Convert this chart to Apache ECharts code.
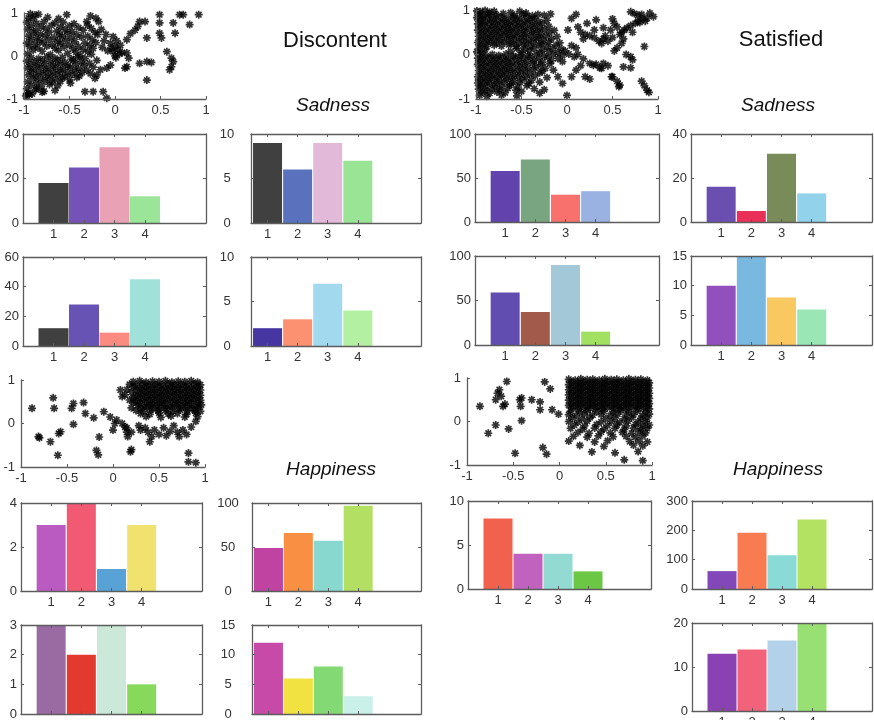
<!DOCTYPE html>
<html>
<head>
<meta charset="utf-8">
<script src="https://cdn.jsdelivr.net/npm/echarts@6/dist/echarts.min.js"></script>
<style>
  html, body { margin: 0; padding: 0; background: #fff; }
  #chart { width: 874px; height: 720px; }
</style>
</head>
<body>
<div id="chart"></div>
<script>
// ---------- data ----------
const categories = [1, 2, 3, 4];

// Discontent – sadness blocks
const discSadTopLeft = [18, 25, 34, 12];
const discSadTopRight = [9, 6, 9, 7];
const discSadBotLeft = [12, 28, 9, 45];
const discSadBotRight = [2, 3, 7, 4];
// Satisfied – sadness blocks
const satSadTopLeft = [58, 71, 31, 35];
const satSadTopRight = [16, 5, 31, 13];
const satSadBotLeft = [59, 37, 90, 15];
const satSadBotRight = [10, 15, 8, 6];
// Discontent – happiness blocks
const discHapTopLeft = [3, 4, 1, 3];
const discHapTopRight = [49, 66, 57, 97];
const discHapBotLeft = [3, 2, 3, 1];
const discHapBotRight = [12, 6, 8, 3];
// Satisfied – happiness blocks
const satHapTopLeft = [8, 4, 4, 2];
const satHapTopRight = [61, 192, 115, 237];
const satHapBotRight = [13, 14, 16, 20];

// Scatter clouds
const discontentSadnessPts = [
  [-0.93,0.98],[-0.88,0.95],[-0.84,0.97],[-0.53,0.96],[-0.27,0.93],[-0.21,0.88],
  [-0.95,0.88],[-0.9,0.86],[-0.74,0.9],[-0.62,0.87],[-0.18,0.8],[-0.31,0.8],
  [-0.97,0.78],[-0.86,0.76],[-0.78,0.8],[-0.66,0.77],[-0.57,0.79],[-0.45,0.75],[-0.3,0.72],
  [-0.92,0.7],[-0.81,0.68],[-0.7,0.71],[-0.6,0.67],[-0.5,0.7],[-0.4,0.66],[-0.26,0.64],
  [-0.96,0.62],[-0.87,0.6],[-0.76,0.63],[-0.64,0.58],[-0.55,0.61],[-0.47,0.57],[-0.35,0.6],[-0.22,0.55],
  [-0.9,0.54],[-0.82,0.51],[-0.72,0.55],[-0.61,0.5],[-0.52,0.53],[-0.42,0.49],[-0.3,0.46],[-0.19,0.5],
  [-0.95,0.46],[-0.86,0.43],[-0.77,0.47],[-0.67,0.42],[-0.58,0.45],[-0.48,0.41],[-0.37,0.44],[-0.25,0.38],
  [-0.92,0.38],[-0.83,0.35],[-0.73,0.39],[-0.63,0.34],[-0.54,0.37],[-0.44,0.33],[-0.33,0.3],[-0.21,0.31],
  [-0.97,0.3],[-0.88,0.27],[-0.79,0.31],[-0.69,0.26],[-0.6,0.29],[-0.5,0.25],[-0.4,0.22],[-0.28,0.24],
  [-0.94,0.22],[-0.85,0.19],[-0.75,0.23],[-0.66,0.18],[-0.56,0.21],[-0.46,0.17],[-0.35,0.15],[-0.24,0.18],
  [-0.9,0.14],[-0.8,0.11],[-0.62,0.13],[-0.43,0.09],[-0.3,0.1],
  [-0.96,0.05],[-0.71,0.03],[-0.52,0.06],[-0.38,0.01],[-0.26,0.04],
  [-0.15,0.62],[-0.12,0.35],[-0.14,0.2],[-0.1,0.5],
  [-0.92,-0.04],[-0.84,-0.06],[-0.75,-0.02],[-0.66,-0.05],[-0.58,-0.03],[-0.48,-0.07],[-0.41,-0.02],[-0.33,-0.06],[-0.2,-0.1],
  [-0.97,-0.12],[-0.88,-0.14],[-0.8,-0.1],[-0.71,-0.13],[-0.63,-0.11],[-0.55,-0.15],[-0.46,-0.1],[-0.37,-0.14],[-0.28,-0.17],
  [-0.93,-0.2],[-0.85,-0.22],[-0.77,-0.18],[-0.68,-0.21],[-0.6,-0.19],[-0.52,-0.23],[-0.43,-0.18],[-0.34,-0.22],[-0.24,-0.26],
  [-0.96,-0.28],[-0.89,-0.3],[-0.81,-0.26],[-0.73,-0.29],[-0.65,-0.27],[-0.57,-0.31],[-0.49,-0.26],[-0.4,-0.3],[-0.31,-0.33],
  [-0.92,-0.36],[-0.84,-0.38],[-0.76,-0.34],[-0.68,-0.37],[-0.6,-0.35],[-0.52,-0.39],[-0.44,-0.34],[-0.36,-0.38],[-0.27,-0.41],
  [-0.95,-0.44],[-0.87,-0.46],[-0.79,-0.42],[-0.71,-0.45],[-0.63,-0.43],[-0.55,-0.47],[-0.47,-0.42],[-0.39,-0.46],
  [-0.9,-0.52],[-0.82,-0.54],[-0.74,-0.5],[-0.66,-0.53],[-0.58,-0.51],[-0.5,-0.55],[-0.42,-0.5],
  [-0.96,-0.6],[-0.86,-0.62],[-0.77,-0.58],[-0.69,-0.61],[-0.6,-0.59],[-0.49,-0.63],
  [-0.92,-0.68],[-0.81,-0.7],[-0.72,-0.66],[-0.63,-0.69],
  [-0.97,-0.76],[-0.87,-0.78],[-0.78,-0.82],[-0.66,-0.8],
  [-0.95,-0.85],[-0.91,-0.88],[-0.8,-0.84],[-0.98,-0.93],[-0.94,-0.9],
  [-0.05,0.3],[0.0,0.22],[0.03,0.15],[-0.02,0.1],[0.05,0.05],[0.0,0.0],[-0.04,0.18],[0.06,0.25],
  [0.02,0.35],[-0.02,0.45],[-0.08,0.12],[0.08,0.08],[0.01,-0.04],
  [0.13,0.38],[0.17,0.52],[0.22,0.6],[0.25,0.69],[0.27,0.8],[0.33,0.8],[0.35,0.42],
  [0.49,0.96],[0.49,0.77],[0.49,0.53],[0.51,0.42],[0.64,0.77],[0.66,0.53],[0.71,0.96],[0.75,0.96],[0.82,0.73],[0.92,0.96],
  [0.57,0.1],[0.62,-0.05],[0.64,-0.13],[0.62,-0.25],[0.6,-0.32],[0.35,-0.56],
  [0.27,-0.17],[0.35,-0.13],[0.4,-0.15],[0.13,0.07],[0.15,-0.05],[0.13,-0.25],[0.11,-0.28],
  [-0.16,-0.32],[-0.09,-0.28],[-0.05,-0.21],[-0.2,-0.44],[-0.22,-0.52],
  [-0.33,-0.83],[-0.24,-0.83],[-0.13,-0.83],[-0.09,-0.98],[-0.97,-0.9],[-0.86,-0.75]
];

const satisfiedSadnessPts = [
  [-0.99,0.98],[-0.95,0.96],[-0.9,0.99],[-0.85,0.95],[-0.8,0.97],[-0.62,0.94],[-0.52,0.97],[-0.45,0.93],
  [-0.97,0.9],[-0.92,0.88],[-0.86,0.91],[-0.78,0.89],[-0.7,0.92],[-0.58,0.88],[-0.48,0.91],[-0.38,0.87],[-0.32,0.9],[-0.25,0.88],[-0.18,0.91],
  [-0.99,0.83],[-0.93,0.81],[-0.87,0.84],[-0.8,0.82],[-0.73,0.85],[-0.66,0.81],[-0.59,0.84],[-0.52,0.82],[-0.44,0.85],[-0.36,0.81],
  [-0.96,0.76],[-0.9,0.74],[-0.83,0.77],[-0.76,0.75],[-0.69,0.78],[-0.62,0.74],[-0.55,0.77],[-0.47,0.75],[-0.4,0.78],[-0.31,0.74],[-0.22,0.77],
  [-0.98,0.69],[-0.92,0.67],[-0.85,0.7],[-0.78,0.68],[-0.71,0.71],[-0.64,0.67],[-0.57,0.7],[-0.5,0.68],[-0.43,0.71],[-0.35,0.67],[-0.27,0.7],
  [-0.95,0.62],[-0.88,0.6],[-0.81,0.63],[-0.74,0.61],[-0.67,0.64],[-0.6,0.6],[-0.53,0.63],[-0.46,0.61],[-0.38,0.64],[-0.3,0.6],[-0.2,0.63],
  [-0.98,0.55],[-0.91,0.53],[-0.84,0.56],[-0.77,0.54],[-0.7,0.57],[-0.63,0.53],[-0.56,0.56],[-0.48,0.54],[-0.41,0.57],[-0.33,0.53],[-0.25,0.56],[-0.14,0.54],
  [-0.94,0.48],[-0.87,0.46],[-0.8,0.49],[-0.73,0.47],[-0.66,0.5],[-0.59,0.46],[-0.52,0.49],[-0.45,0.47],[-0.37,0.5],[-0.29,0.46],[-0.19,0.49],
  [-0.97,0.41],[-0.9,0.39],[-0.83,0.42],[-0.76,0.4],[-0.69,0.43],[-0.62,0.39],[-0.55,0.42],[-0.47,0.4],[-0.39,0.43],[-0.31,0.39],[-0.23,0.42],[-0.11,0.4],
  [-0.94,0.34],[-0.87,0.32],[-0.8,0.35],[-0.73,0.33],[-0.65,0.36],[-0.58,0.32],[-0.5,0.35],[-0.42,0.33],[-0.34,0.36],[-0.26,0.32],[-0.17,0.35],
  [-0.98,0.27],[-0.91,0.25],[-0.84,0.28],[-0.77,0.26],[-0.69,0.29],[-0.61,0.25],[-0.53,0.28],[-0.45,0.26],[-0.37,0.29],[-0.28,0.25],[-0.2,0.28],[-0.08,0.26],
  [-0.95,0.2],[-0.88,0.18],[-0.8,0.21],[-0.72,0.19],[-0.64,0.22],[-0.56,0.18],[-0.48,0.21],[-0.4,0.19],[-0.31,0.22],[-0.22,0.18],[-0.12,0.21],
  [-0.97,0.13],[-0.9,0.11],[-0.55,0.14],[-0.46,0.12],[-0.36,0.15],[-0.27,0.11],[-0.16,0.14],[-0.06,0.12],
  [-0.99,0.06],[-0.93,0.04],[-0.62,0.07],[-0.5,0.05],[-0.41,0.08],[-0.3,0.04],[-0.2,0.07],[-0.1,0.05],[-0.02,0.08],
  [-0.96,-0.01],[-0.89,-0.03],[-0.82,0.0],[-0.75,-0.02],[-0.67,0.01],[-0.59,-0.03],[-0.51,0.0],[-0.43,-0.02],[-0.34,0.01],[-0.25,-0.03],[-0.15,0.0],[-0.05,-0.02],[0.02,0.01],
  [-0.98,-0.08],[-0.92,-0.1],[-0.85,-0.07],[-0.78,-0.09],[-0.71,-0.06],[-0.64,-0.1],[-0.56,-0.07],[-0.48,-0.09],[-0.4,-0.06],[-0.31,-0.1],[-0.21,-0.07],[-0.1,-0.09],
  [-0.95,-0.15],[-0.88,-0.17],[-0.81,-0.14],[-0.74,-0.16],[-0.67,-0.13],[-0.6,-0.17],[-0.52,-0.14],[-0.44,-0.16],[-0.36,-0.13],[-0.27,-0.17],[-0.17,-0.14],[-0.05,-0.16],
  [-0.98,-0.22],[-0.91,-0.24],[-0.84,-0.21],[-0.77,-0.23],[-0.7,-0.2],[-0.63,-0.24],[-0.55,-0.21],[-0.47,-0.23],[-0.38,-0.2],[-0.29,-0.24],[-0.19,-0.21],
  [-0.94,-0.29],[-0.87,-0.31],[-0.8,-0.28],[-0.73,-0.3],[-0.66,-0.27],[-0.59,-0.31],[-0.51,-0.28],[-0.43,-0.3],[-0.34,-0.27],[-0.24,-0.31],
  [-0.97,-0.36],[-0.9,-0.38],[-0.83,-0.35],[-0.76,-0.37],[-0.69,-0.34],[-0.62,-0.38],[-0.54,-0.35],[-0.46,-0.37],[-0.37,-0.34],[-0.27,-0.38],[-0.15,-0.35],
  [-0.94,-0.43],[-0.87,-0.45],[-0.8,-0.42],[-0.73,-0.44],[-0.66,-0.41],[-0.58,-0.45],[-0.5,-0.42],[-0.41,-0.44],[-0.3,-0.41],
  [-0.98,-0.5],[-0.91,-0.52],[-0.84,-0.49],[-0.77,-0.51],[-0.7,-0.48],[-0.62,-0.52],[-0.54,-0.49],[-0.45,-0.51],[-0.35,-0.48],[-0.22,-0.52],
  [-0.95,-0.57],[-0.88,-0.59],[-0.81,-0.56],[-0.74,-0.58],[-0.66,-0.55],[-0.58,-0.59],[-0.49,-0.56],[-0.39,-0.58],
  [-0.98,-0.64],[-0.92,-0.66],[-0.85,-0.63],[-0.77,-0.65],[-0.69,-0.62],[-0.61,-0.66],[-0.52,-0.63],[-0.42,-0.65],[-0.3,-0.62],
  [-0.95,-0.71],[-0.88,-0.73],[-0.8,-0.7],[-0.72,-0.72],[-0.63,-0.69],[-0.54,-0.73],[-0.44,-0.7],
  [-0.97,-0.78],[-0.9,-0.8],[-0.82,-0.77],[-0.74,-0.79],[-0.65,-0.76],[-0.56,-0.8],[-0.36,-0.77],[-0.25,-0.79],
  [-0.93,-0.85],[-0.85,-0.87],[-0.77,-0.84],[-0.68,-0.86],[-0.5,-0.83],[-0.3,-0.87],
  [-0.96,-0.92],[-0.88,-0.94],[-0.72,-0.91],[-0.55,-0.93],
  [0.05,0.81],[0.1,0.9],[0.01,0.55],[0.12,0.62],[0.15,0.5],[0.2,0.45],[0.18,0.35],[0.25,0.42],[0.3,0.38],[0.32,0.78],
  [0.35,0.3],[0.4,0.35],[0.42,0.42],[0.38,0.25],[0.45,0.3],[0.5,0.38],[0.48,0.55],[0.52,0.7],[0.55,0.62],[0.5,0.8],
  [0.58,0.45],[0.6,0.5],[0.63,0.55],[0.66,0.6],[0.7,0.65],[0.72,0.5],[0.75,0.7],[0.78,0.75],[0.8,0.72],[0.83,0.8],
  [0.86,0.75],[0.88,0.82],[0.7,0.96],[0.74,0.92],[0.78,0.88],[0.82,0.9],[0.91,0.93],[0.85,0.18],[0.6,0.25],[0.55,0.15],
  [0.52,0.08],[0.65,0.0],[0.7,-0.05],[0.72,-0.12],[0.62,-0.28],[0.7,-0.3],[0.45,-0.25],[0.4,-0.2],[0.32,-0.22],[0.36,-0.3],
  [0.25,-0.2],[0.18,-0.1],[0.12,0.0],[0.08,-0.05],[0.05,0.2],[0.1,0.15],[0.15,-0.25],[0.1,-0.35],[0.05,-0.5],[0.2,-0.5],
  [0.25,-0.55],[0.5,-0.5],[0.55,-0.6],[0.57,-0.72],[0.82,-0.6],[0.85,-0.7],[0.88,-0.8],[0.9,-0.85],[0.0,-0.92],[-0.05,-0.65],
  [-0.1,-0.5],[0.3,0.55],[0.22,0.7],[0.4,0.6],[0.62,0.35],[0.95,0.85],[0.29,-0.24],[0.38,-0.31],[0.49,-0.5],[0.58,-0.69]
];

const discontentHappinessPts = [
  [-0.88,0.35],[-0.81,-0.3],[-0.8,-0.33],[-0.68,-0.42],[-0.65,0.59],[-0.64,0.35],[-0.59,-0.23],[-0.57,-0.19],
  [-0.6,-0.73],[-0.45,0.35],[-0.43,0.46],[-0.43,-0.02],[-0.32,0.48],[-0.3,0.23],[-0.21,0.13],[-0.18,-0.62],
  [-0.16,-0.72],[-0.15,-0.31],[-0.1,0.27],[-0.03,0.15],[0.0,-0.15],[0.02,0.0],[0.04,0.08],[0.08,0.77],
  [0.1,0.62],[0.13,-0.08],[0.16,-0.3],[0.15,-0.2],[0.19,-0.65],
  [0.22,0.96],[0.29,0.98],[0.36,0.95],[0.43,0.97],[0.5,0.96],[0.57,0.98],[0.64,0.95],[0.71,0.97],[0.78,0.96],[0.85,0.98],[0.92,0.95],
  [0.18,0.9],[0.25,0.88],[0.32,0.91],[0.39,0.89],[0.46,0.9],[0.53,0.88],[0.6,0.91],[0.67,0.89],[0.74,0.9],[0.81,0.88],[0.88,0.91],[0.95,0.89],
  [0.22,0.84],[0.29,0.82],[0.36,0.85],[0.43,0.83],[0.5,0.84],[0.57,0.82],[0.64,0.85],[0.71,0.83],[0.78,0.84],[0.85,0.82],[0.92,0.85],
  [0.15,0.78],[0.25,0.76],[0.32,0.79],[0.39,0.77],[0.46,0.78],[0.53,0.76],[0.6,0.79],[0.67,0.77],[0.74,0.78],[0.81,0.76],[0.88,0.79],[0.95,0.77],
  [0.2,0.72],[0.29,0.7],[0.36,0.73],[0.43,0.71],[0.5,0.72],[0.57,0.7],[0.64,0.73],[0.71,0.71],[0.78,0.72],[0.85,0.7],[0.92,0.73],
  [0.13,0.66],[0.25,0.64],[0.32,0.67],[0.39,0.65],[0.46,0.66],[0.53,0.64],[0.6,0.67],[0.67,0.65],[0.74,0.66],[0.81,0.64],[0.88,0.67],[0.95,0.65],
  [0.22,0.6],[0.29,0.58],[0.36,0.61],[0.43,0.59],[0.5,0.6],[0.57,0.58],[0.64,0.61],[0.71,0.59],[0.78,0.6],[0.85,0.58],[0.92,0.61],
  [0.18,0.54],[0.25,0.52],[0.32,0.55],[0.39,0.53],[0.46,0.54],[0.53,0.52],[0.6,0.55],[0.67,0.53],[0.74,0.54],[0.81,0.52],[0.88,0.55],[0.95,0.53],
  [0.22,0.48],[0.29,0.46],[0.36,0.49],[0.43,0.47],[0.5,0.48],[0.57,0.46],[0.64,0.49],[0.71,0.47],[0.78,0.48],[0.85,0.46],[0.92,0.49],
  [0.27,0.42],[0.34,0.4],[0.41,0.43],[0.48,0.41],[0.55,0.42],[0.62,0.4],[0.69,0.43],[0.76,0.41],[0.83,0.42],[0.9,0.4],[0.96,0.43],
  [0.2,0.36],[0.3,0.34],[0.37,0.37],[0.44,0.35],[0.51,0.36],[0.58,0.34],[0.65,0.37],[0.72,0.35],[0.79,0.36],[0.86,0.34],[0.93,0.37],
  [0.25,0.3],[0.33,0.28],[0.41,0.31],[0.49,0.29],[0.57,0.3],[0.65,0.28],[0.73,0.31],[0.81,0.29],[0.89,0.3],[0.95,0.28],
  [0.3,0.23],[0.4,0.21],[0.5,0.24],[0.6,0.22],[0.7,0.23],[0.8,0.21],[0.9,0.24],
  [0.36,0.16],[0.52,0.14],[0.63,0.17],[0.78,0.15],[0.92,0.16],
  [0.1,0.0],[0.15,-0.1],[0.2,-0.2],[0.28,-0.05],[0.3,-0.15],[0.35,-0.1],[0.38,-0.2],[0.4,-0.42],[0.42,-0.3],
  [0.45,-0.15],[0.5,-0.25],[0.55,-0.1],[0.58,-0.28],[0.62,-0.18],[0.66,-0.05],[0.7,-0.2],[0.72,-0.3],[0.76,-0.15],
  [0.8,-0.25],[0.85,-0.08],[0.9,0.05],[0.2,-0.6],[0.82,-0.68],[0.82,-0.88],[0.9,-0.9]
];

const satisfiedHappinessPts = [
  [-0.86,0.35],[-0.77,-0.27],[-0.69,0.5],[-0.67,0.65],[-0.65,0.73],[-0.63,0.58],[-0.57,0.92],[-0.61,0.35],
  [-0.59,0.4],[-0.69,-0.08],[-0.55,-0.17],[-0.48,-0.73],[-0.43,0.5],[-0.41,0.54],[-0.42,0.35],[-0.41,0.02],
  [-0.3,0.5],[-0.21,0.45],[-0.21,0.27],[-0.16,0.91],[-0.1,0.75],[-0.08,0.27],[-0.18,-0.6],[-0.14,-0.75],[-0.01,0.17],
  [0.1,0.97],[0.17,0.95],[0.23,0.98],[0.3,0.96],[0.36,0.97],[0.43,0.95],[0.49,0.98],[0.56,0.96],[0.62,0.97],[0.69,0.95],[0.75,0.98],[0.82,0.96],[0.88,0.97],[0.95,0.95],
  [0.13,0.91],[0.2,0.89],[0.26,0.92],[0.33,0.9],[0.39,0.91],[0.46,0.89],[0.52,0.92],[0.59,0.9],[0.65,0.91],[0.72,0.89],[0.78,0.92],[0.85,0.9],[0.91,0.91],[0.97,0.89],
  [0.1,0.85],[0.17,0.83],[0.23,0.86],[0.3,0.84],[0.36,0.85],[0.43,0.83],[0.49,0.86],[0.56,0.84],[0.62,0.85],[0.69,0.83],[0.75,0.86],[0.82,0.84],[0.88,0.85],[0.95,0.83],
  [0.13,0.79],[0.2,0.77],[0.26,0.8],[0.33,0.78],[0.39,0.79],[0.46,0.77],[0.52,0.8],[0.59,0.78],[0.65,0.79],[0.72,0.77],[0.78,0.8],[0.85,0.78],[0.91,0.79],[0.97,0.77],
  [0.1,0.73],[0.17,0.71],[0.23,0.74],[0.3,0.72],[0.36,0.73],[0.43,0.71],[0.49,0.74],[0.56,0.72],[0.62,0.73],[0.69,0.71],[0.75,0.74],[0.82,0.72],[0.88,0.73],[0.95,0.71],
  [0.13,0.67],[0.2,0.65],[0.26,0.68],[0.33,0.66],[0.39,0.67],[0.46,0.65],[0.52,0.68],[0.59,0.66],[0.65,0.67],[0.72,0.65],[0.78,0.68],[0.85,0.66],[0.91,0.67],[0.97,0.65],
  [0.1,0.61],[0.17,0.59],[0.23,0.62],[0.3,0.6],[0.36,0.61],[0.43,0.59],[0.49,0.62],[0.56,0.6],[0.62,0.61],[0.69,0.59],[0.75,0.62],[0.82,0.6],[0.88,0.61],[0.95,0.59],
  [0.13,0.55],[0.2,0.53],[0.26,0.56],[0.33,0.54],[0.39,0.55],[0.46,0.53],[0.52,0.56],[0.59,0.54],[0.65,0.55],[0.72,0.53],[0.78,0.56],[0.85,0.54],[0.91,0.55],[0.97,0.53],
  [0.1,0.49],[0.17,0.47],[0.23,0.5],[0.3,0.48],[0.36,0.49],[0.43,0.47],[0.49,0.5],[0.56,0.48],[0.62,0.49],[0.69,0.47],[0.75,0.5],[0.82,0.48],[0.88,0.49],[0.95,0.47],
  [0.13,0.43],[0.2,0.41],[0.26,0.44],[0.33,0.42],[0.39,0.43],[0.46,0.41],[0.52,0.44],[0.59,0.42],[0.65,0.43],[0.72,0.41],[0.78,0.44],[0.85,0.42],[0.91,0.43],[0.97,0.41],
  [0.1,0.37],[0.17,0.35],[0.23,0.38],[0.3,0.36],[0.36,0.37],[0.43,0.35],[0.49,0.38],[0.56,0.36],[0.62,0.37],[0.69,0.35],[0.75,0.38],[0.82,0.36],[0.88,0.37],[0.95,0.35],
  [0.13,0.31],[0.2,0.29],[0.26,0.32],[0.33,0.3],[0.39,0.31],[0.46,0.29],[0.52,0.32],[0.59,0.3],[0.65,0.31],[0.72,0.29],[0.78,0.32],[0.85,0.3],[0.91,0.31],[0.97,0.29],
  [0.12,0.24],[0.22,0.22],[0.3,0.25],[0.4,0.23],[0.48,0.24],[0.58,0.22],[0.66,0.25],[0.75,0.23],[0.84,0.24],[0.93,0.22],
  [0.1,0.16],[0.18,0.14],[0.27,0.17],[0.36,0.15],[0.45,0.16],[0.55,0.14],[0.63,0.17],[0.72,0.15],[0.8,0.16],[0.9,0.14],[0.97,0.17],
  [0.14,0.08],[0.24,0.06],[0.33,0.09],[0.5,0.07],[0.6,0.08],[0.7,0.06],[0.78,0.09],[0.88,0.07],[0.95,0.08],
  [0.1,0.0],[0.2,-0.02],[0.3,0.01],[0.45,-0.01],[0.56,0.0],[0.65,-0.02],[0.74,0.01],[0.85,-0.01],[0.93,0.0],
  [0.16,-0.08],[0.27,-0.1],[0.4,-0.07],[0.52,-0.09],[0.62,-0.08],[0.72,-0.1],[0.82,-0.07],[0.9,-0.09],[0.97,-0.08],
  [0.12,-0.16],[0.25,-0.18],[0.38,-0.15],[0.48,-0.17],[0.6,-0.16],[0.7,-0.18],[0.8,-0.15],[0.88,-0.17],[0.95,-0.16],
  [0.2,-0.25],[0.32,-0.27],[0.45,-0.24],[0.55,-0.26],[0.68,-0.25],[0.78,-0.27],[0.86,-0.24],[0.93,-0.26],
  [0.15,-0.34],[0.3,-0.36],[0.42,-0.33],[0.58,-0.35],[0.72,-0.34],[0.82,-0.36],[0.9,-0.33],
  [0.1,-0.45],[0.38,-0.47],[0.52,-0.44],[0.76,-0.46],[0.86,-0.45],[0.95,-0.47],
  [0.22,-0.55],[0.48,-0.57],[0.8,-0.54],[0.9,-0.56],
  [0.35,-0.7],[0.6,-0.72],[0.85,-0.69],[0.7,-0.88],[0.9,-0.9]
];

// Bar colours, one per bar
const colDiscSadTL = ['#404040', '#7452b6', '#e9a1b5', '#9be598'];
const colDiscSadTR = ['#404040', '#5a72be', '#e2b9d8', '#9ae595'];
const colDiscSadBL = ['#404040', '#6753b4', '#fb8a80', '#a0e2d9'];
const colDiscSadBR = ['#4536a2', '#fb9171', '#a2d9ef', '#b3f0a2'];
const colSatSadTL  = ['#6242ad', '#79a680', '#f8716d', '#99b2e2'];
const colSatSadTR  = ['#6a4fb0', '#e93058', '#788b58', '#92d2ea'];
const colSatSadBL  = ['#614cb0', '#a25a4a', '#a3c8d8', '#a2e062'];
const colSatSadBR  = ['#924fbe', '#79b9e0', '#f9c860', '#9ae7b5'];
const colDiscHapTL = ['#b95bc0', '#f15a72', '#58a2d6', '#f1e270'];
const colDiscHapTR = ['#c043a2', '#f98f42', '#88d8cf', '#b3e062'];
const colDiscHapBL = ['#9a6aa2', '#e33a30', '#cbe8d8', '#86d95a'];
const colDiscHapBR = ['#c84aa8', '#f1e242', '#83da74', '#c9f1ea'];
const colSatHapTL  = ['#f2604e', '#c262bf', '#92dad2', '#6cc844'];
const colSatHapTR  = ['#8248ba', '#f97b52', '#8adad7', '#b3e162'];
const colSatHapBR  = ['#8a42b3', '#f2627a', '#b3d1e8', '#99e074'];

const headings = [
  { text: 'Discontent', x: 335, y: 41, size: 22, italic: false },
  { text: 'Satisfied', x: 781, y: 40, size: 22, italic: false },
  { text: 'Sadness', x: 333, y: 106, size: 19, italic: true },
  { text: 'Sadness', x: 778, y: 106, size: 19, italic: true },
  { text: 'Happiness', x: 331, y: 470, size: 19, italic: true },
  { text: 'Happiness', x: 778, y: 470, size: 19, italic: true }
];

// ---------- layout & styling ----------
const FONT = '"Liberation Sans", Arial, Helvetica, sans-serif';
const AXIS_COLOR = '#5c5c5c';
const LABEL_COLOR = '#333333';
const STAR = 'path://M5,0L5,10M0,5L10,5M1.5,1.5L8.5,8.5M8.5,1.5L1.5,8.5';

const grids = [], xAxes = [], yAxes = [], series = [];
const lineStyle = { color: AXIS_COLOR, width: 1.3 };
const labelStyle = { fontSize: 13, color: LABEL_COLOR, fontFamily: FONT };

function addGrid(box) {
  grids.push({ left: box.left, top: box.top, width: box.width, height: box.height,
    containLabel: false, outerBoundsMode: 'none' });
  return grids.length - 1;
}

function scatterPanel(points, box) {
  const g = addGrid(box);
  xAxes.push({
    gridIndex: g, type: 'value', min: -1, max: 1, interval: 0.5, position: 'bottom', z: 5,
    axisLine: { show: true, onZero: false, lineStyle },
    axisTick: { show: true, inside: true, length: 3, lineStyle: { color: AXIS_COLOR } },
    axisLabel: Object.assign({ margin: 5, showMinLabel: true, showMaxLabel: true }, labelStyle),
    splitLine: { show: false }
  });
  yAxes.push({
    gridIndex: g, type: 'value', min: -1, max: 1, interval: 1, position: 'left', z: 5,
    axisLine: { show: true, onZero: false, lineStyle },
    axisTick: { show: true, inside: true, length: 3, lineStyle: { color: AXIS_COLOR } },
    axisLabel: Object.assign({ margin: 6, showMinLabel: true, showMaxLabel: true }, labelStyle),
    splitLine: { show: false }
  });
  series.push({
    type: 'scatter', xAxisIndex: xAxes.length - 1, yAxisIndex: yAxes.length - 1,
    data: points, symbol: STAR, symbolSize: 8, clip: false, silent: true,
    itemStyle: { color: 'rgba(0,0,0,0)', borderColor: '#000', borderWidth: 1.7 }
  });
}

function barPanel(p) {
  const g = addGrid(p);
  const tick = { show: true, inside: true, length: 3, lineStyle: { color: AXIS_COLOR } };
  const xBase = {
    gridIndex: g, type: 'value', min: p.xMin, max: p.xMax, z: 5,
    axisLine: { show: true, onZero: false, lineStyle },
    axisTick: Object.assign({ customValues: categories }, tick),
    splitLine: { show: false }
  };
  const xi = xAxes.length;
  xAxes.push(Object.assign({}, xBase, {
    position: 'bottom',
    axisLabel: Object.assign({ customValues: categories, margin: p.xLabelMargin || 5 }, labelStyle)
  }));
  xAxes.push(Object.assign({}, xBase, { position: 'top', axisLabel: { show: false } }));
  const yBase = {
    gridIndex: g, type: 'value', min: 0, max: p.yMax, interval: p.yStep, z: 5,
    axisLine: { show: true, onZero: false, lineStyle },
    axisTick: tick,
    splitLine: { show: false }
  };
  const yi = yAxes.length;
  yAxes.push(Object.assign({}, yBase, {
    position: 'left',
    axisLabel: Object.assign({ margin: p.labelMargin || 4, align: p.labelAlign || 'right',
      showMinLabel: true, showMaxLabel: true }, labelStyle)
  }));
  yAxes.push(Object.assign({}, yBase, { position: 'right', axisLabel: { show: false } }));
  const unit = p.width / (p.xMax - p.xMin);
  series.push({
    type: 'bar', xAxisIndex: xi, yAxisIndex: yi, silent: true,
    barWidth: Math.round(unit) - 1,
    data: p.values.map((v, i) => ({ value: [categories[i], v], itemStyle: { color: p.colors[i] } }))
  });
}

// scatter clouds
scatterPanel(discontentSadnessPts,   { left: 24,  top: 13,  width: 182, height: 86 });
scatterPanel(satisfiedSadnessPts,    { left: 476, top: 10,  width: 182, height: 89 });
scatterPanel(discontentHappinessPts, { left: 21,  top: 380, width: 184, height: 87 });
scatterPanel(satisfiedHappinessPts,  { left: 467, top: 378, width: 185, height: 87 });

// bar blocks
const MID = { labelAlign: 'center', labelMargin: 24 };
barPanel({ values: discSadTopLeft,  colors: colDiscSadTL, left: 23,  top: 134, width: 183, height: 89, xMin: 0, xMax: 6, yMax: 40, yStep: 20 });
barPanel(Object.assign({ values: discSadTopRight, colors: colDiscSadTR, left: 251, top: 134, width: 170, height: 89, xMin: 0.45, xMax: 6.1, yMax: 10, yStep: 5 }, MID));
barPanel({ values: discSadBotLeft,  colors: colDiscSadBL, left: 23,  top: 257, width: 183, height: 89, xMin: 0, xMax: 6, yMax: 60, yStep: 20 });
barPanel(Object.assign({ values: discSadBotRight, colors: colDiscSadBR, left: 251, top: 257, width: 170, height: 89, xMin: 0.45, xMax: 6.1, yMax: 10, yStep: 5 }, MID));

barPanel({ values: satSadTopLeft,  colors: colSatSadTL, left: 475, top: 134, width: 184, height: 88, xMin: 0, xMax: 6.1, yMax: 100, yStep: 50 });
barPanel({ values: satSadTopRight, colors: colSatSadTR, left: 691, top: 134, width: 181, height: 88, xMin: 0, xMax: 6,   yMax: 40,  yStep: 20 });
barPanel({ values: satSadBotLeft,  colors: colSatSadBL, left: 475, top: 256, width: 184, height: 89, xMin: 0, xMax: 6.1, yMax: 100, yStep: 50 });
barPanel({ values: satSadBotRight, colors: colSatSadBR, left: 691, top: 256, width: 181, height: 89, xMin: 0, xMax: 6,   yMax: 15,  yStep: 5 });

barPanel({ values: discHapTopLeft,  colors: colDiscHapTL, left: 21,  top: 503, width: 181, height: 88, xMin: 0, xMax: 6, yMax: 4, yStep: 2 });
barPanel(Object.assign({ values: discHapTopRight, colors: colDiscHapTR, left: 252, top: 503, width: 169, height: 88, xMin: 0.45, xMax: 6.1, yMax: 100, yStep: 50 }, MID));
barPanel({ values: discHapBotLeft,  colors: colDiscHapBL, left: 21,  top: 625, width: 181, height: 89, xMin: 0, xMax: 6, yMax: 3, yStep: 1, xLabelMargin: 7 });
barPanel(Object.assign({ values: discHapBotRight, colors: colDiscHapBR, left: 252, top: 625, width: 169, height: 89, xMin: 0.45, xMax: 6.1, yMax: 15, yStep: 5, xLabelMargin: 7 }, MID));

barPanel({ values: satHapTopLeft,  colors: colSatHapTL, left: 468, top: 501, width: 183, height: 88, xMin: 0, xMax: 6.1, yMax: 10,  yStep: 5 });
barPanel({ values: satHapTopRight, colors: colSatHapTR, left: 692, top: 501, width: 180, height: 88, xMin: 0, xMax: 6,   yMax: 300, yStep: 100 });
barPanel({ values: satHapBotRight, colors: colSatHapBR, left: 692, top: 623, width: 180, height: 88, xMin: 0, xMax: 6,   yMax: 20,  yStep: 10 });

const graphic = headings.map(h => ({
  type: 'text', x: h.x, y: h.y, silent: true,
  style: {
    text: h.text, fill: '#111', align: 'center', verticalAlign: 'middle',
    font: (h.italic ? 'italic ' : '') + h.size + 'px ' + FONT
  }
}));

const chart = echarts.init(document.getElementById('chart'), null, { renderer: 'canvas' });
chart.setOption({
  animation: false,
  backgroundColor: '#ffffff',
  textStyle: { fontFamily: FONT },
  grid: grids,
  xAxis: xAxes,
  yAxis: yAxes,
  series: series,
  graphic: graphic
});
</script>
</body>
</html>
